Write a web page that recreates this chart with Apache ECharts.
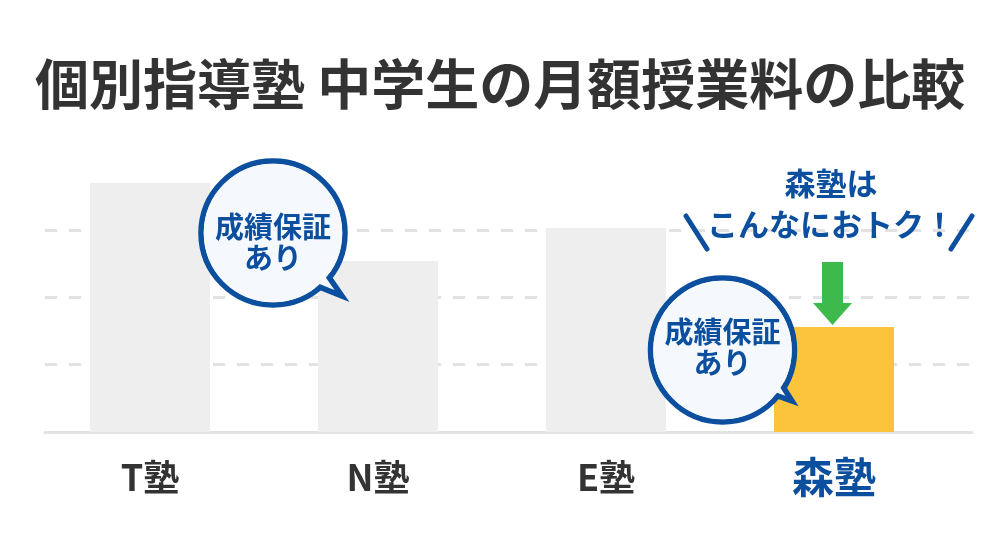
<!DOCTYPE html>
<html>
<head>
<meta charset="utf-8">
<script src="https://cdn.jsdelivr.net/npm/echarts@6/dist/echarts.min.js"></script>
<style>
  html, body { margin: 0; padding: 0; background: #fff; }
  #chart { width: 1005px; height: 555px; }
</style>
</head>
<body>
<div id="chart"></div>
<script>
// データ
const juku = ['T塾', 'N塾', 'E塾', '森塾']
const fee = [3.7, 2.54, 3.03, 1.56]
const yTicks = [0, 1, 2, 3, 4]

const BLUE = '#0b4f9e'
const FONT = '"Noto Sans CJK JP", "Noto Sans", sans-serif'

const mychart = echarts.init(document.getElementById('chart'))

// 吹き出し（円＋しっぽ）
function bubble(cx, cy, r, a1, a2, tx, ty, textY) {
    const rad = (a) => a * Math.PI / 180
    const rb = r - 12
    return [
        { type: 'circle', z: 100, shape: { cx, cy, r },
          style: { fill: '#f5f9fe', stroke: BLUE, lineWidth: 5.5 } },
        { type: 'polygon', z: 101,
          shape: { points: [
              [cx + rb * Math.cos(rad(a1)), cy + rb * Math.sin(rad(a1))],
              [tx, ty],
              [cx + rb * Math.cos(rad(a2)), cy + rb * Math.sin(rad(a2))]
          ] },
          style: { fill: '#f5f9fe', stroke: BLUE, lineWidth: 5.5, lineJoin: 'miter' } },
        { type: 'circle', z: 102, shape: { cx, cy, r: r - 2.75 },
          style: { fill: '#f5f9fe' } },
        { type: 'text', z: 103, x: cx, y: textY,
          style: { text: '成績保証\nあり', fill: BLUE, font: 'bold 29px ' + FONT,
                   lineHeight: 31, align: 'center', verticalAlign: 'middle' } }
    ]
}

const option = {
    backgroundColor: '#fff',
    title: {
        text: '個別指導塾 中学生の月額授業料の比較',
        left: 30,
        top: 48,
        textStyle: { fontFamily: FONT, fontWeight: 'bold', fontSize: 54, color: '#333', lineHeight: 62 }
    },
    grid: [
        // 点線・軸線用
        { left: 45, right: 33, top: 162.8, bottom: 123 },
        // 棒グラフ用
        { left: 36, right: 57, top: 162.8, bottom: 123 }
    ],
    xAxis: [
        {
            gridIndex: 0, type: 'value', min: 0, max: 1,
            axisLine: { show: true, lineStyle: { color: '#e2e2e2', width: 3 } },
            axisTick: { show: false }, axisLabel: { show: false }, splitLine: { show: false }
        },
        {
            gridIndex: 1, type: 'category', data: juku,
            axisLine: { show: false }, axisTick: { show: false },
            axisLabel: {
                margin: 22,
                formatter: (v) => v === '森塾' ? '{m|' + v + '}' : '{d|' + v + '}',
                rich: {
                    d: { fontFamily: FONT, fontWeight: 'bold', fontSize: 36, color: '#333', lineHeight: 46 },
                    m: { fontFamily: FONT, fontWeight: 'bold', fontSize: 42, color: BLUE, lineHeight: 46 }
                }
            }
        }
    ],
    yAxis: [
        {
            gridIndex: 0, type: 'value', min: yTicks[0], max: yTicks[yTicks.length - 1], interval: 1,
            axisLine: { show: false }, axisTick: { show: false }, axisLabel: { show: false },
            splitLine: {
                show: true, showMinLine: false, showMaxLine: false,
                lineStyle: { color: '#e2e2e2', width: 3, type: [12, 12] }
            }
        },
        {
            gridIndex: 1, type: 'value', min: yTicks[0], max: yTicks[yTicks.length - 1], show: false
        }
    ],
    series: [{
        type: 'bar',
        xAxisIndex: 1, yAxisIndex: 1,
        barWidth: 120,
        z: 3,
        data: fee.map((v, i) => ({
            value: v,
            itemStyle: { color: i === juku.length - 1 ? '#fbc43b' : '#eeeeee' }
        }))
    }],
    graphic: [
        ...bubble(273, 233, 72, 35, 55, 342, 296, 242.5),
        ...bubble(722.5, 350, 72, 26, 44, 792, 401, 347.5),
        // 森塾は こんなにおトク！
        { type: 'text', z: 100, x: 831, y: 183,
          style: { text: '森塾は', fill: BLUE, font: 'bold 31px ' + FONT, align: 'center', verticalAlign: 'middle' } },
        { type: 'text', z: 100, x: 831, y: 224,
          style: { text: 'こんなにおトク！', fill: BLUE, font: 'bold 31px ' + FONT, align: 'center', verticalAlign: 'middle' } },
        { type: 'line', z: 100, shape: { x1: 686, y1: 216, x2: 707, y2: 249 },
          style: { stroke: BLUE, lineWidth: 5, lineCap: 'round' } },
        { type: 'line', z: 100, shape: { x1: 972, y1: 216, x2: 951, y2: 249 },
          style: { stroke: BLUE, lineWidth: 5, lineCap: 'round' } },
        // 緑の矢印
        { type: 'polygon', z: 100,
          shape: { points: [[822, 262], [843, 262], [843, 303], [852, 303], [832.5, 325], [813, 303], [822, 303]] },
          style: { fill: '#3dba4b' } }
    ]
}
mychart.setOption(option)
</script>
</body>
</html>
